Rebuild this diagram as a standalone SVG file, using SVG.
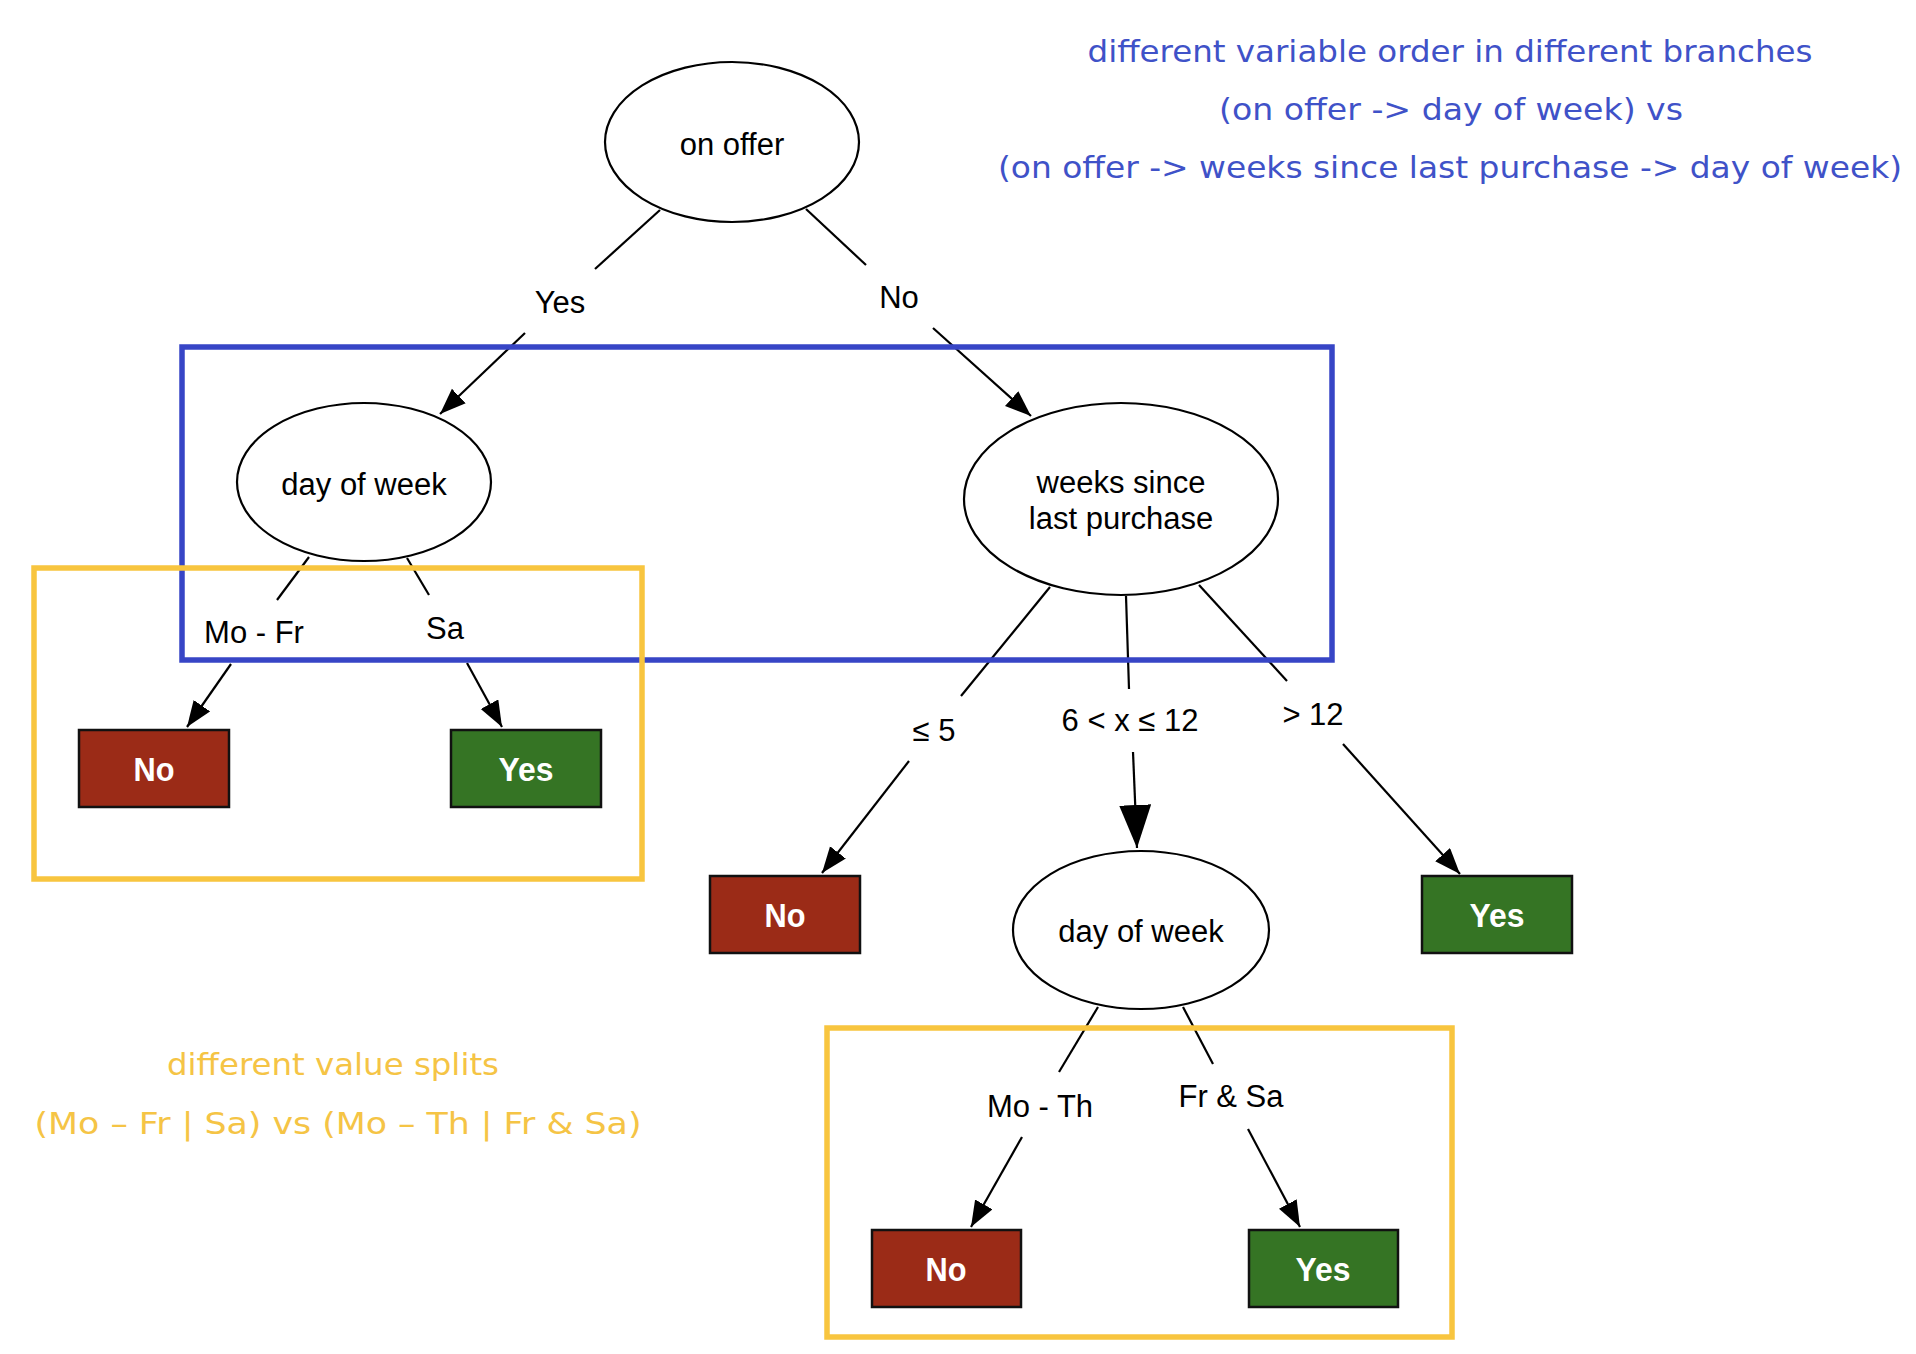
<svg xmlns="http://www.w3.org/2000/svg" width="1916" height="1354" viewBox="0 0 1916 1354">
<style>
.ell{fill:#fff;stroke:#000;stroke-width:2.2}
.ntxt{font-family:"Liberation Sans",Arial,sans-serif;font-size:31px;fill:#000;text-anchor:middle}
.etxt{font-family:"Liberation Sans",Arial,sans-serif;font-size:31px;fill:#000;text-anchor:middle}
.btxt{font-family:"Liberation Sans",Arial,sans-serif;font-size:34px;font-weight:bold;fill:#fff;text-anchor:middle}
.no{fill:#9b2b17;stroke:#111;stroke-width:2.5}
.yes{fill:#357424;stroke:#111;stroke-width:2.5}
.edge{stroke:#000;stroke-width:2.2;fill:none}
.blue{fill:none;stroke:#3745c6;stroke-width:5.5}
.yel{fill:none;stroke:#f8c53f;stroke-width:5.5}
.ann{font-family:"DejaVu Sans",Verdana,sans-serif;font-size:31px;text-anchor:middle}
</style>
<defs>
<marker id="ah" markerUnits="userSpaceOnUse" markerWidth="27" markerHeight="21" refX="26" refY="10" orient="auto">
<path d="M0,0 L26,10 L0,20 z" fill="#000"/>
</marker>
<marker id="ahL" markerUnits="userSpaceOnUse" markerWidth="44" markerHeight="33" refX="43" refY="16" orient="auto">
<path d="M0,0 L43,16 L0,32 z" fill="#000"/>
</marker>
</defs>
<rect width="1916" height="1354" fill="#fff"/>

<g id="connectors">
<line class="edge" x1="660" y1="210" x2="595" y2="269"/>
<line class="edge" x1="525" y1="333" x2="440" y2="414" marker-end="url(#ah)"/>
<text class="etxt" x="560" y="313">Yes</text>
<line class="edge" x1="806" y1="209" x2="866" y2="265"/>
<line class="edge" x1="933" y1="328" x2="1031" y2="416" marker-end="url(#ah)"/>
<text class="etxt" x="899" y="308">No</text>

<line class="edge" x1="309" y1="557" x2="277" y2="600"/>
<line class="edge" x1="231" y1="664" x2="187" y2="727" marker-end="url(#ah)"/>
<text class="etxt" x="254" y="643">Mo - Fr</text>
<line class="edge" x1="407" y1="558" x2="429" y2="595"/>
<line class="edge" x1="467" y1="663" x2="502" y2="727" marker-end="url(#ah)"/>
<text class="etxt" x="445" y="639">Sa</text>

<line class="edge" x1="1050" y1="587" x2="961" y2="696"/>
<line class="edge" x1="909" y1="761" x2="822" y2="873" marker-end="url(#ah)"/>
<text class="etxt" x="934" y="741">≤ 5</text>
<line class="edge" x1="1126" y1="596" x2="1129" y2="689"/>
<line class="edge" x1="1133" y1="752" x2="1137" y2="848" marker-end="url(#ahL)"/>
<text class="etxt" x="1130" y="731">6 &lt; x ≤ 12</text>
<line class="edge" x1="1199" y1="585" x2="1287" y2="681"/>
<line class="edge" x1="1343" y1="744" x2="1460" y2="874" marker-end="url(#ah)"/>
<text class="etxt" x="1313" y="725">&gt; 12</text>

<line class="edge" x1="1098" y1="1007" x2="1059" y2="1072"/>
<line class="edge" x1="1022" y1="1137" x2="971" y2="1227" marker-end="url(#ah)"/>
<text class="etxt" x="1040" y="1117">Mo - Th</text>
<line class="edge" x1="1183" y1="1007" x2="1213" y2="1064"/>
<line class="edge" x1="1248" y1="1129" x2="1300" y2="1227" marker-end="url(#ah)"/>
<text class="etxt" x="1231" y="1107">Fr &amp; Sa</text>
</g>

<g id="n_onoffer">
<ellipse class="ell" cx="732" cy="142" rx="127" ry="80"/>
<text class="ntxt" x="732" y="155">on offer</text>
</g>
<g id="n_dow1">
<ellipse class="ell" cx="364" cy="482" rx="127" ry="79"/>
<text class="ntxt" x="364" y="495">day of week</text>
</g>
<g id="n_weeks">
<ellipse class="ell" cx="1121" cy="499" rx="157" ry="96"/>
<text class="ntxt" x="1121" y="493">weeks since</text>
<text class="ntxt" x="1121" y="529">last purchase</text>
</g>
<g id="n_dow2">
<ellipse class="ell" cx="1141" cy="930" rx="128" ry="79"/>
<text class="ntxt" x="1141" y="942">day of week</text>
</g>
<g id="leaf_no1">
<rect class="no" x="79" y="730" width="150" height="77"/>
<text class="btxt" x="154" y="781" textLength="41" lengthAdjust="spacingAndGlyphs">No</text>
</g>
<g id="leaf_yes1">
<rect class="yes" x="451" y="730" width="150" height="77"/>
<text class="btxt" x="526" y="781" textLength="55" lengthAdjust="spacingAndGlyphs">Yes</text>
</g>
<g id="leaf_no2">
<rect class="no" x="710" y="876" width="150" height="77"/>
<text class="btxt" x="785" y="927" textLength="41" lengthAdjust="spacingAndGlyphs">No</text>
</g>
<g id="leaf_yes2">
<rect class="yes" x="1422" y="876" width="150" height="77"/>
<text class="btxt" x="1497" y="927" textLength="55" lengthAdjust="spacingAndGlyphs">Yes</text>
</g>
<g id="leaf_no3">
<rect class="no" x="872" y="1230" width="149" height="77"/>
<text class="btxt" x="946" y="1281" textLength="41" lengthAdjust="spacingAndGlyphs">No</text>
</g>
<g id="leaf_yes3">
<rect class="yes" x="1249" y="1230" width="149" height="77"/>
<text class="btxt" x="1323" y="1281" textLength="55" lengthAdjust="spacingAndGlyphs">Yes</text>
</g>

<g id="highlights">
<rect class="blue" x="182" y="347" width="1150" height="313"/>
<rect class="yel" x="34" y="568" width="608" height="311"/>
<rect class="yel" x="827" y="1028" width="625" height="309"/>
</g>

<g id="annotations">
<text class="ann" fill="#3f52c8" x="1450" y="62" textLength="725" lengthAdjust="spacingAndGlyphs">different variable order in different branches</text>
<text class="ann" fill="#3f52c8" x="1451" y="120" textLength="464" lengthAdjust="spacingAndGlyphs">(on offer -&gt; day of week) vs</text>
<text class="ann" fill="#3f52c8" x="1450" y="178" textLength="904" lengthAdjust="spacingAndGlyphs">(on offer -&gt; weeks since last purchase -&gt; day of week)</text>
<text class="ann" fill="#f5c445" x="333" y="1075" textLength="332" lengthAdjust="spacingAndGlyphs">different value splits</text>
<text class="ann" fill="#f5c445" x="338" y="1134" textLength="607" lengthAdjust="spacingAndGlyphs">(Mo – Fr | Sa) vs (Mo – Th | Fr &amp; Sa)</text>
</g>
</svg>
